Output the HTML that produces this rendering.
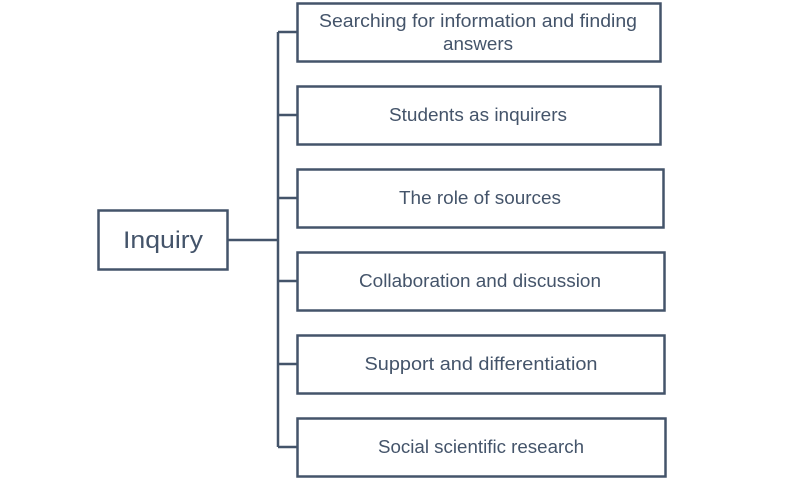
<!DOCTYPE html>
<html><head><meta charset="utf-8"><style>html,body{margin:0;padding:0;background:#fff}svg{display:block}</style></head>
<body>
<svg width="796" height="478" viewBox="0 0 796 478" xmlns="http://www.w3.org/2000/svg" font-family="Liberation Sans, sans-serif" fill="#44546a">
<g stroke="#44546a" stroke-width="2.5" fill="none">
<rect x="98.5" y="210.5" width="129" height="59"/>
<line x1="227" y1="240" x2="278" y2="240"/>
<line x1="278" y1="32" x2="278" y2="447"/>
<line x1="278" y1="32" x2="297" y2="32"/>
<line x1="278" y1="115" x2="297" y2="115"/>
<line x1="278" y1="198" x2="297" y2="198"/>
<line x1="278" y1="281" x2="297" y2="281"/>
<line x1="278" y1="364" x2="297" y2="364"/>
<line x1="278" y1="447" x2="297" y2="447"/>
<rect x="297.5" y="3.5" width="363" height="58"/>
<rect x="297.5" y="86.5" width="363" height="58"/>
<rect x="297.5" y="169.5" width="366" height="58"/>
<rect x="297.5" y="252.5" width="367" height="58"/>
<rect x="297.5" y="335.5" width="367" height="58"/>
<rect x="297.5" y="418.5" width="368" height="58"/>
</g>
<g font-size="18" text-anchor="middle" stroke="none">
<text x="163" y="248" font-size="24" textLength="80" lengthAdjust="spacingAndGlyphs">Inquiry</text>
<text x="478" y="27" textLength="318" lengthAdjust="spacingAndGlyphs">Searching for information and finding</text>
<text x="478" y="50" textLength="70" lengthAdjust="spacingAndGlyphs">answers</text>
<text x="478" y="121" textLength="178" lengthAdjust="spacingAndGlyphs">Students as inquirers</text>
<text x="480" y="204" textLength="162" lengthAdjust="spacingAndGlyphs">The role of sources</text>
<text x="480" y="287" textLength="242" lengthAdjust="spacingAndGlyphs">Collaboration and discussion</text>
<text x="481" y="370" textLength="233" lengthAdjust="spacingAndGlyphs">Support and differentiation</text>
<text x="481" y="453" textLength="206" lengthAdjust="spacingAndGlyphs">Social scientific research</text>
</g>
</svg>
</body></html>
